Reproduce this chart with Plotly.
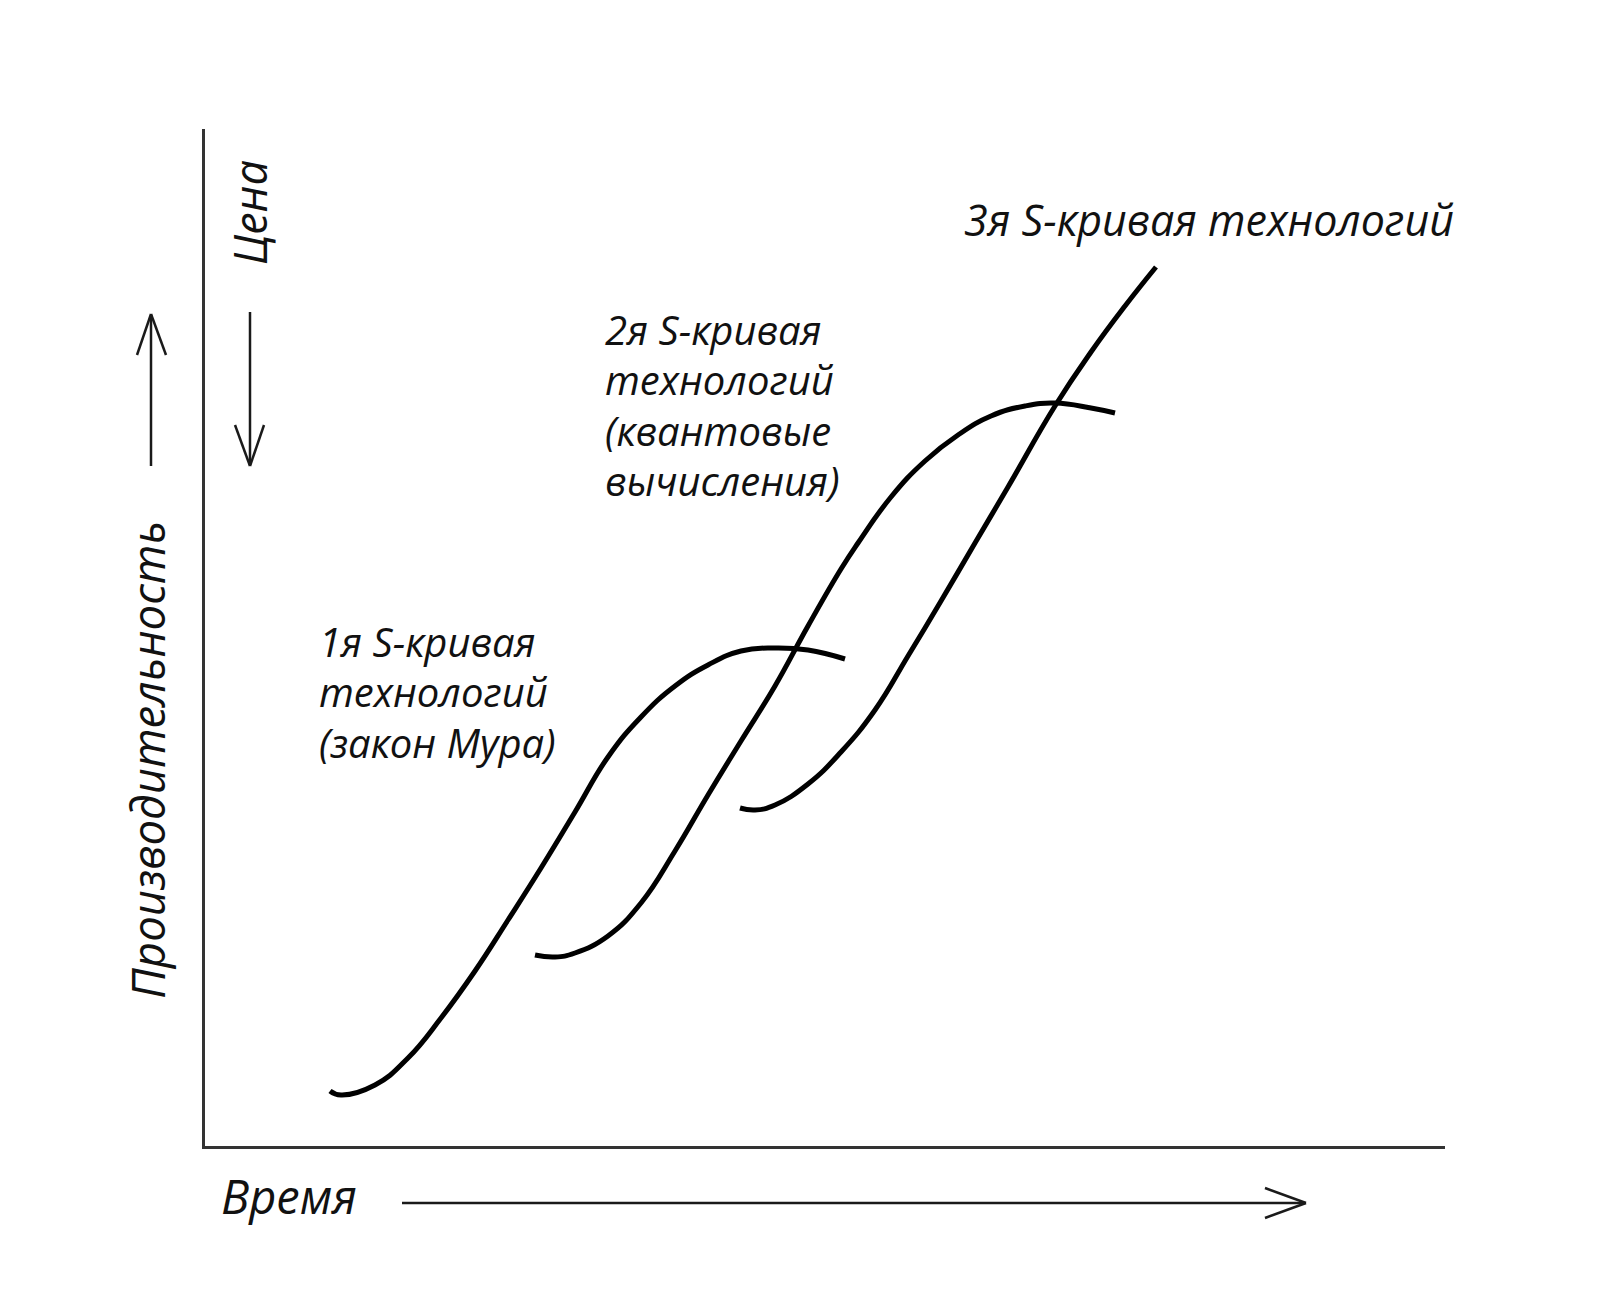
import plotly.graph_objects as go

# ---- data (time units, performance units) ----
curve1_time = [12.5, 13.6, 17.0, 20.3, 23.6, 27.0, 30.3, 33.6, 37.0, 40.3, 43.6, 47.0, 50.3, 53.6, 57.0, 60.3, 64.0]
curve1_perf = [5.5, 5.1, 6.1, 8.8, 12.8, 17.5, 22.6, 27.8, 33.4, 38.9, 42.9, 46.0, 48.1, 49.5, 49.8, 49.6, 48.7]

curve2_time = [33.0, 35.0, 37.0, 40.3, 43.6, 47.0, 50.3, 53.6, 57.0, 60.3, 63.6, 65.3, 68.6, 72.0, 75.3, 78.6, 82.0, 85.0, 88.6, 91.0]
curve2_perf = [19.1, 18.9, 19.3, 21.0, 24.3, 29.5, 35.1, 40.5, 46.0, 52.0, 57.7, 60.3, 64.9, 68.5, 71.1, 73.0, 74.0, 74.3, 73.8, 73.3]

curve3_time = [53.5, 55.0, 57.0, 60.3, 63.6, 67.0, 70.3, 73.6, 77.0, 80.3, 85.0, 88.6, 92.0, 95.1]
curve3_perf = [33.8, 33.6, 34.1, 36.2, 39.4, 43.6, 49.0, 54.5, 60.3, 65.9, 74.0, 79.4, 84.0, 87.9]

curve_labels = [
    ["1я S-кривая", "технологий", "(закон Мура)"],
    ["2я S-кривая", "технологий", "(квантовые", "вычисления)"],
    ["3я S-кривая технологий"],
]
x_title = "Время"
y_title = "Производительность"
price_title = "Цена"

# ---- layout geometry (pixels) ----
W, H = 1600, 1308
L, R, T, B = 197, 163, 121, 170
PW, PH = W - L - R, H - T - B


def px(x):
    return (x - L) / PW


def py(y):
    return (H - B - y) / PH


FONT = "Open Sans, Noto Sans, DejaVu Sans, sans-serif"
INK = "#111111"

fig = go.Figure()
for t, p in [(curve1_time, curve1_perf), (curve2_time, curve2_perf), (curve3_time, curve3_perf)]:
    fig.add_trace(go.Scatter(
        x=t, y=p, mode="lines",
        line=dict(color="black", width=5, shape="spline", smoothing=1.3, simplify=False),
        hoverinfo="skip", showlegend=False,
    ))

annotations = []


def label(text, x, y, size, xanchor="left", yanchor="middle", angle=0):
    annotations.append(dict(
        text=text, x=px(x), y=py(y), xref="paper", yref="paper",
        xanchor=xanchor, yanchor=yanchor, align="left", showarrow=False,
        textangle=angle,
        font=dict(family=FONT, size=size, color=INK, style="italic"),
    ))


LINE_BASE = 38.8     # base size -> line pitch of about 50 px
BLOCK_SIZE = 40


def block(lines, size):
    return "<br>".join(f"<span style='font-size:{size}px'>{s}</span>" for s in lines)


label(block(curve_labels[0], BLOCK_SIZE), 309, 684, LINE_BASE)
label(block(curve_labels[1], BLOCK_SIZE), 595, 397, LINE_BASE)
label(curve_labels[2][0], 954, 211, 43)

label(x_title, 211, 1188, 47)
label(y_title, 139, 752, 45.5, xanchor="center", angle=-90)
label(price_title, 241, 205, 45, xanchor="center", angle=-90)

shapes = []


def seg(x0, y0, x1, y1, w=2.5):
    shapes.append(dict(type="line", xref="paper", yref="paper",
                       x0=px(x0), y0=py(y0), x1=px(x1), y1=py(y1),
                       line=dict(color="#1a1a1a", width=w)))


# time arrow
seg(394, 1195, 1297, 1195)
seg(1257, 1180, 1298, 1195)
seg(1257, 1210, 1298, 1195)
# performance up arrow
seg(143, 458, 143, 307)
seg(129, 347, 143, 306)
seg(158, 347, 143, 306)
# price down arrow
seg(242, 304, 242, 457)
seg(227, 417, 242, 458)
seg(256, 417, 242, 458)

fig.update_layout(
    width=W, height=H,
    margin=dict(l=L, r=R, t=T, b=B, pad=0),
    paper_bgcolor="white", plot_bgcolor="white",
    annotations=annotations, shapes=shapes,
    showlegend=False,
)
axis_common = dict(showgrid=False, zeroline=False, showticklabels=False, ticks="",
                   showline=True, linecolor="#333333", linewidth=3, fixedrange=True)
fig.update_xaxes(range=[0, PW / 10], **axis_common)
fig.update_yaxes(range=[0, PH / 10], **axis_common)

fig.write_html("out.html")
